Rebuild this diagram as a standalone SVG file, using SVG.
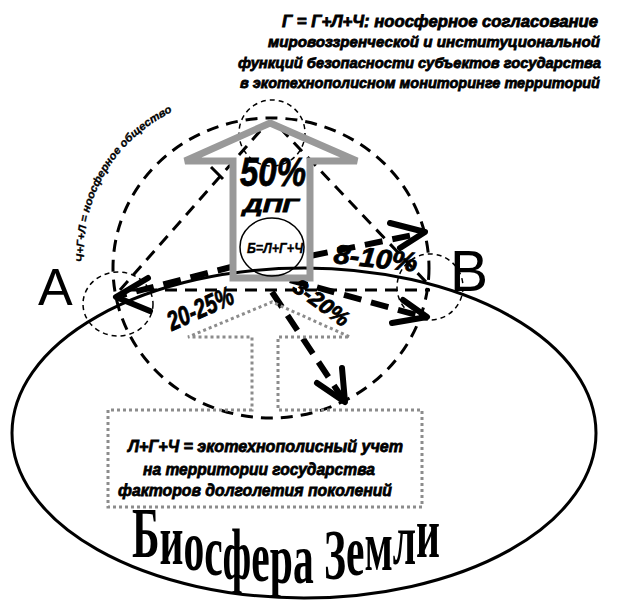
<svg xmlns="http://www.w3.org/2000/svg" width="620" height="602" viewBox="0 0 620 602">
<style>
.bi{font-family:"Liberation Sans",Arial,sans-serif;font-weight:bold;font-style:italic;fill:#000;stroke:#000;stroke-width:0.8}
.thin{fill:none;stroke:#000;stroke-width:3;stroke-dasharray:12 8}
.sc{fill:none;stroke:#000;stroke-width:1.5;stroke-dasharray:5 4}
.thick{fill:none;stroke:#000;stroke-width:6;stroke-dasharray:18 10}
.head{fill:none;stroke:#000;stroke-width:6;stroke-linecap:round;stroke-linejoin:round}
</style>
<rect width="620" height="602" fill="#fff"/>
<g id="biosphere">
<ellipse cx="304" cy="433" rx="292" ry="165" fill="none" stroke="#000" stroke-width="3"/>
<text font-family="'Liberation Serif','Times New Roman',serif" font-weight="bold" font-size="72" textLength="308" lengthAdjust="spacingAndGlyphs" x="132" y="557 564 570 575 579 581 583 583 581 579 575 570 564 557">Биосфера Земли</text>
</g>
<g id="big-circle"><ellipse cx="271" cy="268" rx="158" ry="150" class="thin"/></g>
<g id="node-A">
<ellipse cx="118" cy="304" rx="35" ry="32" class="sc"/>
<text x="38" y="305" font-family="'Liberation Sans',Arial,sans-serif" font-size="52">A</text>
</g>
<g id="node-B">
<circle cx="430" cy="287" r="33" class="sc"/>
<text x="450" y="291" font-family="'Liberation Sans',Arial,sans-serif" font-size="57">B</text>
</g>
<g id="node-top"><circle cx="272" cy="133" r="33" class="sc"/></g>
<g id="connectors">
<line x1="120" y1="290" x2="268" y2="122" class="thin"/>
<line x1="280" y1="128" x2="426" y2="282" class="thin"/>
<line x1="125" y1="290" x2="430" y2="290" class="thin"/>
<line x1="211" y1="167" x2="223" y2="179" stroke="#000" stroke-width="3"/>
<line x1="235" y1="266" x2="122" y2="295" class="thick"/>
<polyline points="148,278 116,297 150,311" class="head"/>
<line x1="310" y1="256" x2="423" y2="233" class="thick"/>
<polyline points="390,223 425,232 400,248" class="head"/>
<line x1="290" y1="280" x2="424" y2="317" class="thick"/>
<polyline points="403,300 427,317 392,323" class="head"/>
<line x1="272" y1="292" x2="343" y2="399" class="thick"/>
<polyline points="317,383 345,402 342,368" class="head"/>
</g>
<g id="box">
<path d="M252 410 L108 410 L108 507 L422 507 L422 410 L278 410 L278 337 L350 337 L272 302 L188 337 L252 337 Z" fill="none" stroke="#8c8c8c" stroke-width="3" stroke-dasharray="3 3"/>
<text class="bi" font-size="17" x="128" y="452" textLength="275" lengthAdjust="spacingAndGlyphs">Л+Г+Ч = экотехнополисный учет</text>
<text class="bi" font-size="17" x="143" y="475" textLength="232" lengthAdjust="spacingAndGlyphs">на территории государства</text>
<text class="bi" font-size="17" x="118" y="496" textLength="274" lengthAdjust="spacingAndGlyphs">факторов долголетия поколений</text>
</g>
<g id="gray-arrow">
<path d="M270 123 L357 161 L310 161 L310 278 L233 278 L233 161 L185 161 Z" fill="none" stroke="#999" stroke-width="7" stroke-linejoin="miter"/>
<text class="bi" font-size="40" x="240" y="186" textLength="66" lengthAdjust="spacingAndGlyphs">50%</text>
<text class="bi" font-size="19" x="243" y="212" textLength="56" lengthAdjust="spacingAndGlyphs">ДПГ</text>
<ellipse cx="272" cy="247" rx="32" ry="29" fill="none" stroke="#000" stroke-width="1.5"/>
<text class="bi" font-size="15" x="247" y="253" textLength="56" lengthAdjust="spacingAndGlyphs" style="stroke-width:0.4">Б=Л+Г+Ч</text>
</g>
<g id="labels">
<text class="bi" font-size="27" transform="translate(172,331) rotate(-24)" textLength="70" lengthAdjust="spacingAndGlyphs">20-25%</text>
<text class="bi" font-size="27" transform="translate(333,263) rotate(6)" textLength="84" lengthAdjust="spacingAndGlyphs">8-10%</text>
<text class="bi" font-size="22" transform="translate(291,290) rotate(36)" textLength="64" lengthAdjust="spacingAndGlyphs">3-20%</text>
<path id="arcpath" d="M84 262 C82 200 110 140 180 108" fill="none"/>
<text class="bi" font-size="11" font-style="normal" style="stroke-width:0.3"><textPath href="#arcpath" textLength="185" lengthAdjust="spacingAndGlyphs">Ч+Г+Л = ноосферное общество</textPath></text>
</g>
<g id="title">
<text class="bi" font-size="16" x="282" y="27" textLength="316" lengthAdjust="spacingAndGlyphs">Г =  Г+Л+Ч: ноосферное согласование</text>
<text class="bi" font-size="15" x="268" y="47" textLength="332" lengthAdjust="spacingAndGlyphs">мировоззренческой и институциональной</text>
<text class="bi" font-size="15" x="238" y="68" textLength="363" lengthAdjust="spacingAndGlyphs">функций безопасности субъектов государства</text>
<text class="bi" font-size="15" x="240" y="88" textLength="360" lengthAdjust="spacingAndGlyphs">в экотехнополисном мониторинге территорий</text>
</g>
</svg>
